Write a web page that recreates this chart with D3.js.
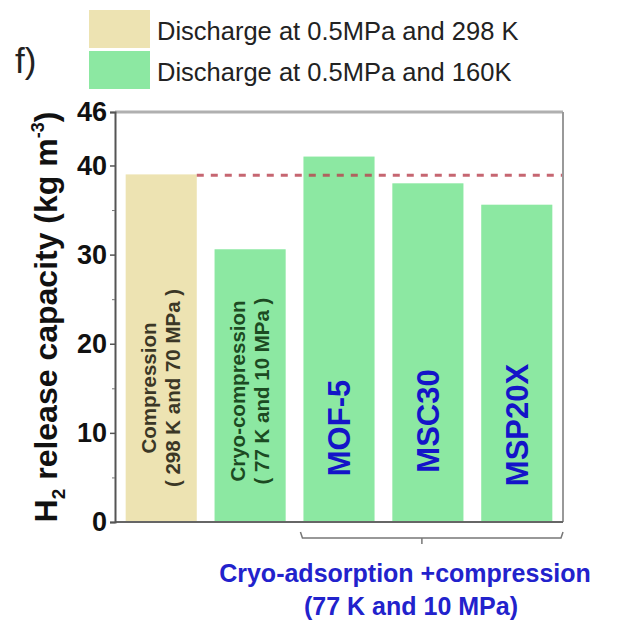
<!DOCTYPE html>
<html>
<head>
<meta charset="utf-8">
<script src="https://cdn.jsdelivr.net/npm/d3@7"></script>
<style>
  body { margin: 0; background: #fff; }
  text { font-family: "Liberation Sans", Arial, sans-serif; }
</style>
</head>
<body>
<script>
const categories = ["Compression", "Cryo-compression", "MOF-5", "MSC30", "MSP20X"];
const values = [39.0, 30.6, 41.0, 38.0, 35.6];
const series = ["298K", "160K", "160K", "160K", "160K"];
const barLabels = [
  ["Compression", "( 298 K and 70 MPa )"],
  ["Cryo-compression", "( 77 K and 10 MPa )"],
  ["MOF-5"], ["MSC30"], ["MSP20X"]
];
const legendLabels = ["Discharge at 0.5MPa and 298 K", "Discharge at 0.5MPa and 160K"];
const yTicks = [0, 10, 20, 30, 40, 46];
const yMinorTicks = [5, 15, 25, 35];
const referenceLine = 38.9;
const groupLabel = ["Cryo-adsorption +compression", "(77 K and 10 MPa)"];

const width = 634, height = 625;
const margin = {top: 112, left: 115, right: 71, bottom: 103};

const colors = {"298K": "#ede3b2", "160K": "#8ce8a2"};
const textColors = ["#3b3726", "#1c4a22", "#1414c8", "#1414c8", "#1414c8"];

const svg = d3.select("body").append("svg")
  .attr("width", width)
  .attr("height", height);

const x = d3.scaleBand()
  .domain(categories)
  .range([margin.left, width - margin.right])
  .paddingInner(0.2)
  .paddingOuter(0.12);

const y = d3.scaleLinear()
  .domain([0, 46])
  .range([height - margin.bottom, margin.top]);

// bars
svg.append("g").selectAll("rect")
  .data(categories)
  .join("rect")
  .attr("x", d => x(d))
  .attr("width", x.bandwidth())
  .attr("y", (d, i) => y(values[i]))
  .attr("height", (d, i) => y(0) - y(values[i]))
  .attr("fill", (d, i) => colors[series[i]]);

// dashed reference line from end of first bar to right frame
svg.append("line")
  .attr("x1", x(categories[0]) + x.bandwidth())
  .attr("x2", width - margin.right)
  .attr("y1", y(referenceLine))
  .attr("y2", y(referenceLine))
  .attr("stroke", "#b8404e")
  .attr("stroke-opacity", 0.8)
  .attr("stroke-width", 3)
  .attr("stroke-dasharray", "7,7");

// frame: top and right in gray
svg.append("line")
  .attr("x1", margin.left).attr("x2", width - margin.right)
  .attr("y1", margin.top).attr("y2", margin.top)
  .attr("stroke", "#b0b0b0").attr("stroke-width", 3);
svg.append("line")
  .attr("x1", width - margin.right).attr("x2", width - margin.right)
  .attr("y1", margin.top).attr("y2", y(0))
  .attr("stroke", "#999").attr("stroke-width", 2);

// bottom axis line
svg.append("line")
  .attr("x1", margin.left).attr("x2", width - margin.right)
  .attr("y1", y(0)).attr("y2", y(0))
  .attr("stroke", "#666").attr("stroke-width", 2);

// y axis
const yAxis = svg.append("g")
  .attr("transform", `translate(${margin.left},0)`)
  .call(d3.axisLeft(y).tickValues(yTicks).tickSize(5).tickPadding(3));
yAxis.select(".domain").attr("stroke", "#555").attr("stroke-width", 2);
yAxis.selectAll(".tick line").attr("stroke", "#555").attr("stroke-width", 1.5);
yAxis.selectAll(".tick text")
  .attr("font-size", 27)
  .attr("font-weight", "bold")
  .attr("fill", "#111");

svg.append("g")
  .attr("transform", `translate(${margin.left},0)`)
  .call(d3.axisLeft(y).tickValues(yMinorTicks).tickSize(3).tickFormat(""))
  .call(g => g.select(".domain").remove())
  .selectAll(".tick line").attr("stroke", "#777");

// y title
const yTitle = svg.append("text")
  .attr("transform", `translate(57,${(y(0) + y(46)) / 2}) rotate(-90)`)
  .attr("text-anchor", "middle")
  .attr("font-size", 32)
  .attr("font-weight", "bold")
  .attr("fill", "#111");
yTitle.append("tspan").text("H");
yTitle.append("tspan").text("2").attr("font-size", 19).attr("dy", 8);
yTitle.append("tspan").text(" release capacity (kg m").attr("dy", -8);
yTitle.append("tspan").text("-3").attr("font-size", 18).attr("dy", -13);
yTitle.append("tspan").text(")").attr("dy", 13);

// labels inside bars
const labelCenterY = [388, 391, 428, 421, 425];
categories.forEach((c, i) => {
  const lines = barLabels[i];
  const cx = x(c) + x.bandwidth() / 2;
  const big = lines.length === 1;
  const t = svg.append("text")
    .attr("transform", `translate(${cx},${labelCenterY[i]}) rotate(-90)`)
    .attr("text-anchor", "middle")
    .attr("font-weight", "bold")
    .attr("font-size", big ? 31 : 20.5)
    .attr("fill", textColors[i]);
  if (big) {
    t.append("tspan").attr("x", 0).attr("dy", "0.35em").text(lines[0]);
  } else {
    t.append("tspan").attr("x", 0).attr("dy", -5).text(lines[0]);
    t.append("tspan").attr("x", 0).attr("dy", 24).text(lines[1]);
  }
});

// bracket under adsorption group
const bx1 = x(categories[2]) - 3;
const bx2 = width - margin.right;
const by = y(0) + 16;
const bmid = x(categories[3]) + x.bandwidth() / 2 - 6;
svg.append("path")
  .attr("d", `M${bx1},${by - 6} L${bx1 + 2},${by} L${bx2 - 2},${by} L${bx2},${by - 6} M${bmid},${by} L${bmid},${by + 6}`)
  .attr("fill", "none")
  .attr("stroke", "#777")
  .attr("stroke-width", 1.5);

const gl = svg.append("text")
  .attr("text-anchor", "middle")
  .attr("font-weight", "bold")
  .attr("font-size", 25)
  .attr("fill", "#2222cc");
gl.append("tspan").attr("x", 405).attr("y", 582).text(groupLabel[0]);
gl.append("tspan").attr("x", 411).attr("y", 615).text(groupLabel[1]);

// legend
const legend = svg.append("g");
legendLabels.forEach((l, i) => {
  legend.append("rect")
    .attr("x", 89).attr("y", 10 + i * 41)
    .attr("width", 61).attr("height", 38)
    .attr("fill", colors[i === 0 ? "298K" : "160K"]);
  legend.append("text")
    .attr("x", 157).attr("y", 40 + i * 41)
    .attr("font-size", 25.5)
    .attr("fill", "#222")
    .text(l);
});

svg.append("text")
  .attr("x", 15).attr("y", 73)
  .attr("font-size", 35)
  .attr("fill", "#222")
  .text("f)");
</script>
</body>
</html>
